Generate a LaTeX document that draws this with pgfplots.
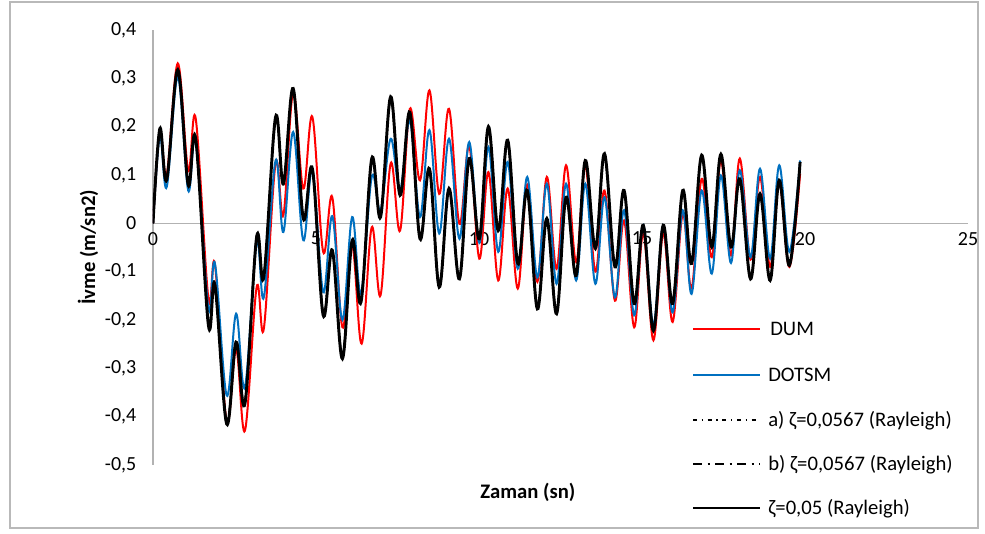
\documentclass[border=0pt]{standalone}
\usepackage{pgfplots}
\pgfplotsset{compat=1.18}
\usepackage{fontspec}
\setmainfont{Carlito}
\definecolor{dotblue}{RGB}{0,112,192}

\pgfplotstableread{
t v
0 0
0.21 0.19
0.42 0.10
0.76 0.331
1.08 0.11
1.31 0.217
1.70 -0.156
1.90 -0.085
2.26 -0.41
2.55 -0.26
2.82 -0.429
3.18 -0.132
3.40 -0.218
3.76 0.124
4.00 0.017
4.30 0.27
4.61 0.072
4.89 0.22
5.22 -0.059
5.50 0.054
5.81 -0.215
6.11 -0.045
6.40 -0.249
6.71 -0.008
6.98 -0.149
7.29 0.124
7.58 -0.015
7.88 0.237
8.19 0.089
8.48 0.275
8.78 0.061
9.08 0.237
9.40 -0.001
9.70 0.16
10.01 -0.073
10.29 0.106
10.59 -0.118
10.88 0.072
11.19 -0.135
11.48 0.08
11.79 -0.121
12.08 0.096
12.38 -0.094
12.67 0.12
12.98 -0.08
13.26 0.12
13.57 -0.1
13.85 0.068
14.17 -0.16
14.45 0.006
14.76 -0.215
15.04 -0.02
15.35 -0.242
15.65 -0.02
15.94 -0.204
16.25 0.02
16.52 -0.135
16.83 0.092
17.14 -0.07
17.42 0.13
17.73 -0.066
18.00 0.134
18.33 -0.075
18.62 0.096
18.93 -0.09
19.21 0.085
19.52 -0.09
19.85 0.103
}\dum

\pgfplotstableread{
t v
0 0
0.21 0.18
0.42 0.075
0.76 0.303
1.08 0.068
1.31 0.17
1.70 -0.176
1.90 -0.083
2.26 -0.356
2.55 -0.187
2.82 -0.339
3.18 -0.04
3.40 -0.153
3.76 0.13
4.00 -0.018
4.30 0.189
4.61 -0.035
4.89 0.11
5.22 -0.142
5.50 0.015
5.81 -0.2
6.11 0.013
6.38 -0.146
6.71 0.096
6.98 0.027
7.29 0.175
7.58 0.068
7.88 0.213
8.19 0.013
8.48 0.193
8.78 -0.021
9.08 0.175
9.40 -0.032
9.70 0.168
10.01 -0.04
10.29 0.158
10.59 -0.059
10.88 0.127
11.19 -0.094
11.48 0.096
11.79 -0.112
12.08 0.082
12.38 -0.125
12.67 0.082
12.98 -0.118
13.26 0.082
13.57 -0.125
13.85 0.054
14.17 -0.153
14.45 0.027
14.76 -0.19
15.04 -0.004
15.35 -0.21
15.65 -0.004
15.94 -0.184
16.25 0.027
16.52 -0.146
16.83 0.068
17.14 -0.104
17.42 0.099
17.73 -0.082
18.00 0.11
18.33 -0.07
18.62 0.113
18.93 -0.073
19.21 0.12
19.52 -0.059
19.85 0.13
}\dotsm

\pgfplotstableread{
t v
0 0
0.21 0.196
0.42 0.09
0.76 0.318
1.08 0.08
1.31 0.175
1.70 -0.211
1.90 -0.128
2.26 -0.415
2.55 -0.246
2.82 -0.373
3.18 -0.028
3.40 -0.111
3.76 0.22
4.00 0.082
4.30 0.279
4.61 0.01
4.89 0.113
5.22 -0.19
5.50 -0.056
5.81 -0.28
6.11 -0.035
6.38 -0.163
6.71 0.134
6.98 0.013
7.29 0.262
7.58 0.058
7.88 0.23
8.19 -0.032
8.48 0.113
8.78 -0.132
9.08 0.072
9.40 -0.115
9.70 0.134
10.01 -0.032
10.29 0.2
10.59 -0.015
10.88 0.172
11.19 -0.083
11.48 0.068
11.79 -0.177
12.08 0.01
12.38 -0.187
12.67 0.054
12.98 -0.108
13.26 0.13
13.57 -0.052
13.85 0.144
14.17 -0.09
14.45 0.068
14.76 -0.166
15.04 -0.004
15.35 -0.222
15.65 -0.004
15.94 -0.166
16.25 0.068
16.52 -0.083
16.83 0.141
17.14 -0.049
17.42 0.143
17.73 -0.049
18.00 0.092
18.33 -0.115
18.62 0.061
18.93 -0.118
19.21 0.089
19.52 -0.087
19.85 0.127
}\zetab

\pgfplotstableread{
t v
0 0
0.21 0.192
0.42 0.088
0.76 0.314
1.08 0.078
1.31 0.172
1.70 -0.206
1.90 -0.124
2.26 -0.408
2.55 -0.242
2.82 -0.366
3.18 -0.026
3.40 -0.108
3.76 0.215
4.00 0.08
4.30 0.273
4.61 0.012
4.89 0.111
5.22 -0.185
5.50 -0.054
5.81 -0.273
6.11 -0.034
6.38 -0.159
6.71 0.131
6.98 0.014
7.29 0.256
7.58 0.058
7.88 0.225
8.19 -0.03
8.48 0.111
8.78 -0.128
9.08 0.071
9.40 -0.112
9.70 0.131
10.01 -0.031
10.29 0.195
10.59 -0.015
10.88 0.168
11.19 -0.081
11.48 0.067
11.79 -0.172
12.08 0.01
12.38 -0.182
12.67 0.053
12.98 -0.105
13.26 0.127
13.57 -0.05
13.85 0.14
14.17 -0.088
14.45 0.066
14.76 -0.162
15.04 -0.004
15.35 -0.216
15.65 -0.004
15.94 -0.162
16.25 0.066
16.52 -0.081
16.83 0.137
17.14 -0.048
17.42 0.139
17.73 -0.048
18.00 0.09
18.33 -0.112
18.62 0.06
18.93 -0.115
19.21 0.087
19.52 -0.085
19.85 0.124
}\zetaa

\begin{document}
\begin{tikzpicture}
\path[use as bounding box] (-114.75pt,-51.75pt) rectangle (624pt,348.75pt);
\draw[gray!55, line width=0.8pt] (-107.25pt,-47.25pt) rectangle (618.75pt,347.25pt);
\begin{axis}[
  at={(0pt,0pt)}, anchor=south west,
  scale only axis, width=611.25pt, height=326.25pt,
  xmin=0, xmax=25, ymin=-0.5, ymax=0.4,
  axis lines=middle,
  axis line style={-, draw=gray!60, line width=0.9pt},
  hide obscured x ticks=false, hide obscured y ticks=false,
  xtick={0,5,10,15,20,25},
  ytick={-0.5,-0.4,-0.3,-0.2,-0.1,0,0.1,0.2,0.3,0.4},
  major tick length=0pt,
  /pgf/number format/assume math mode=true,
  /pgf/number format/use comma,
  yticklabel style={/pgf/number format/fixed, /pgf/number format/precision=1, font=\fontsize{15pt}{17pt}\selectfont, anchor=east, xshift=-9pt},
  xticklabel style={font=\fontsize{15pt}{17pt}\selectfont, anchor=north, yshift=-3pt},
  xlabel={\textbf{Zaman (sn)}},
  ylabel={\textbf{İvme (m/sn2)}},
  every axis x label/.style={at={(rel axis cs:0.46,0)}, anchor=center, yshift=-20.25pt, font=\fontsize{15.5pt}{17pt}\selectfont},
  every axis y label/.style={at={(rel axis cs:0,0.5)}, xshift=-48.75pt, rotate=90, anchor=center, font=\fontsize{15.5pt}{17pt}\selectfont},
]
\addplot[red, line width=1.5pt, smooth, tension=0.6] table[x=t, y=v] {\dum};
\addplot[dotblue, line width=1.5pt, smooth, tension=0.6] table[x=t, y=v] {\dotsm};
\addplot[black, line width=1.2pt, smooth, tension=0.6, dash pattern=on 3pt off 2.5pt on 1pt off 2.5pt] table[x=t, y=v] {\zetaa};
\addplot[black, line width=1.2pt, smooth, tension=0.6, dash pattern=on 7pt off 3pt on 1.5pt off 3pt] table[x=t, y=v] {\zetaa};
\addplot[black, line width=2.2pt, smooth, tension=0.6] table[x=t, y=v] {\zetab};
\end{axis}
% legend
\begin{scope}[every node/.style={anchor=base west, inner sep=0pt, font=\fontsize{15.5pt}{18pt}\selectfont}]
\draw[red, line width=0.9pt] (405pt,102pt) -- (455.25pt,102pt);
\node at (462.75pt,97pt) {DUM};
\draw[dotblue, line width=0.9pt] (405pt,67.5pt) -- (455.25pt,67.5pt);
\node at (461.25pt,62.5pt) {DOTSM};
\draw[black, line width=0.9pt, dash pattern=on 3pt off 3.5pt on 1pt off 3.5pt] (405pt,33.75pt) -- (455.25pt,33.75pt);
\node at (461.25pt,28.75pt) {a) ζ=0,0567 (Rayleigh)};
\draw[black, line width=0.9pt, dash pattern=on 7pt off 4pt on 1.5pt off 4pt] (405pt,0.75pt) -- (455.25pt,0.75pt);
\node at (461.25pt,-4.25pt) {b) ζ=0,0567 (Rayleigh)};
\draw[black, line width=0.9pt] (405pt,-32.25pt) -- (455.25pt,-32.25pt);
\node at (461.25pt,-37.25pt) {ζ=0,05 (Rayleigh)};
\end{scope}
\end{tikzpicture}
\end{document}
